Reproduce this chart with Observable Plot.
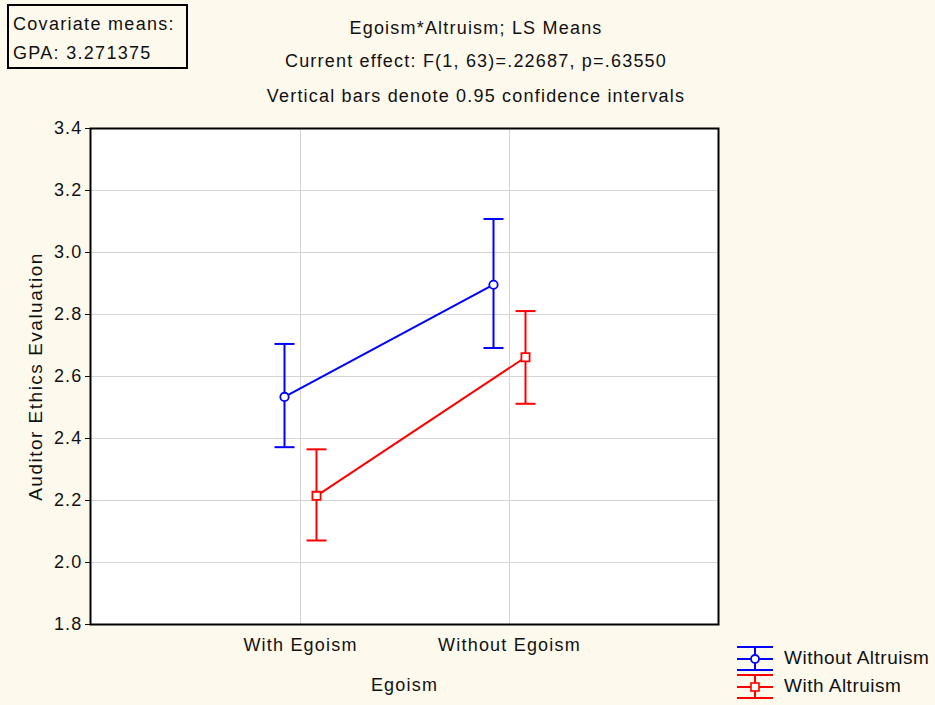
<!DOCTYPE html>
<html>
<head>
<meta charset="utf-8">
<script src="https://cdn.jsdelivr.net/npm/d3@7"></script>
<script src="https://cdn.jsdelivr.net/npm/@observablehq/plot@0.6"></script>
<style>
  html, body { margin: 0; padding: 0; }
  body { width: 935px; height: 705px; overflow: hidden; background: #fdf9ec;
         font-family: "Liberation Sans", Arial, sans-serif; color: #111; }
  #wrap { position: relative; width: 935px; height: 705px; }
  #chart { position: absolute; left: 0; top: 0; }
  #chart svg text { letter-spacing: 1.2px; }
  .t { position: absolute; white-space: nowrap; font-size: 18px; letter-spacing: 1.2px; line-height: 22px; }
  .title { left: 476px; transform: translateX(-50%); }
  .legtext { font-size: 19px; letter-spacing: 0.5px; }
  #cov { position: absolute; left: 7px; top: 4px; width: 173px; height: 57px; padding-top: 4px; border: 2px solid #000;
         font-size: 18px; letter-spacing: 1.3px; line-height: 29px; padding-left: 4px; box-sizing: content-box; }
  #cov div { white-space: nowrap; }
  .leg { position: absolute; }
</style>
</head>
<body>
<div id="wrap">
  <div id="chart"></div>
  <div id="titles"></div>
  <div id="cov"></div>
  <div id="legend"></div>
</div>
<script>
// ---- data ----
const groups = ["With Egoism", "Without Egoism"];
const seriesNames = ["Without Altruism", "With Altruism"];
const seriesColors = ["#0000ff", "#ff0000"];
const meanWithoutAltruism  = [2.534, 2.896];
const lowerWithoutAltruism = [2.372, 2.692];
const upperWithoutAltruism = [2.705, 3.108];
const meanWithAltruism  = [2.215, 2.662];
const lowerWithAltruism = [2.071, 2.512];
const upperWithAltruism = [2.365, 2.811];
const yTicks = [1.8, 2.0, 2.2, 2.4, 2.6, 2.8, 3.0, 3.2, 3.4];
const titleLines = ["Egoism*Altruism; LS Means",
                    "Current effect: F(1, 63)=.22687, p=.63550",
                    "Vertical bars denote 0.95 confidence intervals"];
const covariateLines = ["Covariate means:", "GPA: 3.271375"];
const xLabel = "Egoism";
const yLabel = "Auditor Ethics Evaluation";

// ---- build table ----
const seriesData = [
  {name: seriesNames[0], mean: meanWithoutAltruism, lo: lowerWithoutAltruism, hi: upperWithoutAltruism, symbol: "circle", r: 4.2, dx: -16},
  {name: seriesNames[1], mean: meanWithAltruism, lo: lowerWithAltruism, hi: upperWithAltruism, symbol: "square", r: 4.6, dx: 16}
];
const rows = seriesData.map(s => groups.map((g, i) => ({series: s.name, group: g, mean: s.mean[i], lo: s.lo[i], hi: s.hi[i]})));

const capSymbol = {
  draw(context, size) {
    const w = Math.sqrt(size / Math.PI);
    context.moveTo(-w, 0);
    context.lineTo(w, 0);
  }
};

const seriesMarks = seriesData.flatMap((s, k) => {
  const d = rows[k];
  return [
    Plot.line(d, {x: "group", y: "mean", stroke: "series", strokeWidth: 2, dx: s.dx}),
    Plot.ruleX(d, {x: "group", y1: "lo", y2: "hi", stroke: "series", strokeWidth: 2, dx: s.dx}),
    Plot.dot(d, {x: "group", y: "lo", symbol: capSymbol, r: 10, stroke: "series", fill: "none", strokeWidth: 2, dx: s.dx}),
    Plot.dot(d, {x: "group", y: "hi", symbol: capSymbol, r: 10, stroke: "series", fill: "none", strokeWidth: 2, dx: s.dx}),
    Plot.dot(d, {x: "group", y: "mean", symbol: s.symbol, r: s.r, stroke: "series", fill: "white", strokeWidth: 1.8, dx: s.dx})
  ];
});

const chart = Plot.plot({
  width: 935,
  height: 705,
  marginLeft: 90,
  marginRight: 217,
  marginTop: 128,
  marginBottom: 81,
  style: {background: "transparent", fontFamily: "'Liberation Sans', Arial, sans-serif", fontSize: "18px", color: "#111", overflow: "visible"},
  x: {type: "point", domain: groups, padding: 1},
  y: {domain: [1.8, 3.4]},
  color: {domain: seriesNames, range: seriesColors},
  marks: [
    Plot.frame({fill: "white", stroke: null}),
    Plot.gridY(yTicks, {stroke: "#d4d4d4", strokeOpacity: 1}),
    Plot.gridX(groups, {stroke: "#d4d4d4", strokeOpacity: 1}),
    Plot.axisY(yTicks, {tickFormat: d => d.toFixed(1), tickSize: 5, tickPadding: 3, label: yLabel, labelAnchor: "center", labelArrow: "none", labelOffset: 62}),
    Plot.axisX(groups, {tickSize: 0, tickPadding: 14, label: xLabel, labelAnchor: "center", labelArrow: "none", labelOffset: 66}),
    ...seriesMarks,
    Plot.frame({stroke: "black", strokeWidth: 2, fill: "none"})
  ]
});
document.getElementById("chart").appendChild(chart);
d3.select(chart).selectAll("text").filter(function() { return this.textContent === yLabel; })
  .style("font-size", "19px").style("letter-spacing", "1.5px");

// titles
const titleTops = [17, 50, 85];
const tdiv = document.getElementById("titles");
titleLines.forEach((s, i) => {
  const el = document.createElement("div");
  el.className = "t title";
  el.style.top = titleTops[i] + "px";
  el.textContent = s;
  tdiv.appendChild(el);
});

// covariate box
const cov = document.getElementById("cov");
covariateLines.forEach(s => { const el = document.createElement("div"); el.textContent = s; cov.appendChild(el); });

// legend
const leg = document.getElementById("legend");
seriesData.forEach((s, i) => {
  const cy = [659, 687][i];
  const col = seriesColors[i];
  const g = document.createElementNS("http://www.w3.org/2000/svg", "svg");
  g.setAttribute("width", 40); g.setAttribute("height", 30);
  g.setAttribute("class", "leg");
  g.style.left = "735px"; g.style.top = (cy - 15) + "px";
  const marker = s.symbol === "circle"
    ? `<circle cx="20" cy="15" r="4" fill="white" stroke="${col}" stroke-width="1.8"/>`
    : `<rect x="16" y="11" width="8" height="8" fill="white" stroke="${col}" stroke-width="1.6"/>`;
  g.innerHTML = `<g stroke="${col}" stroke-width="2" fill="none">
      <line x1="2" x2="38" y1="3" y2="3"/><line x1="2" x2="38" y1="15" y2="15"/><line x1="2" x2="38" y1="26" y2="26"/>
      <line x1="20" x2="20" y1="3" y2="26"/></g>${marker}`;
  leg.appendChild(g);
  const el = document.createElement("div");
  el.className = "t legtext";
  el.style.left = "784px";
  el.style.top = (cy - 12) + "px";
  el.textContent = s.name;
  leg.appendChild(el);
});
</script>
</body>
</html>
